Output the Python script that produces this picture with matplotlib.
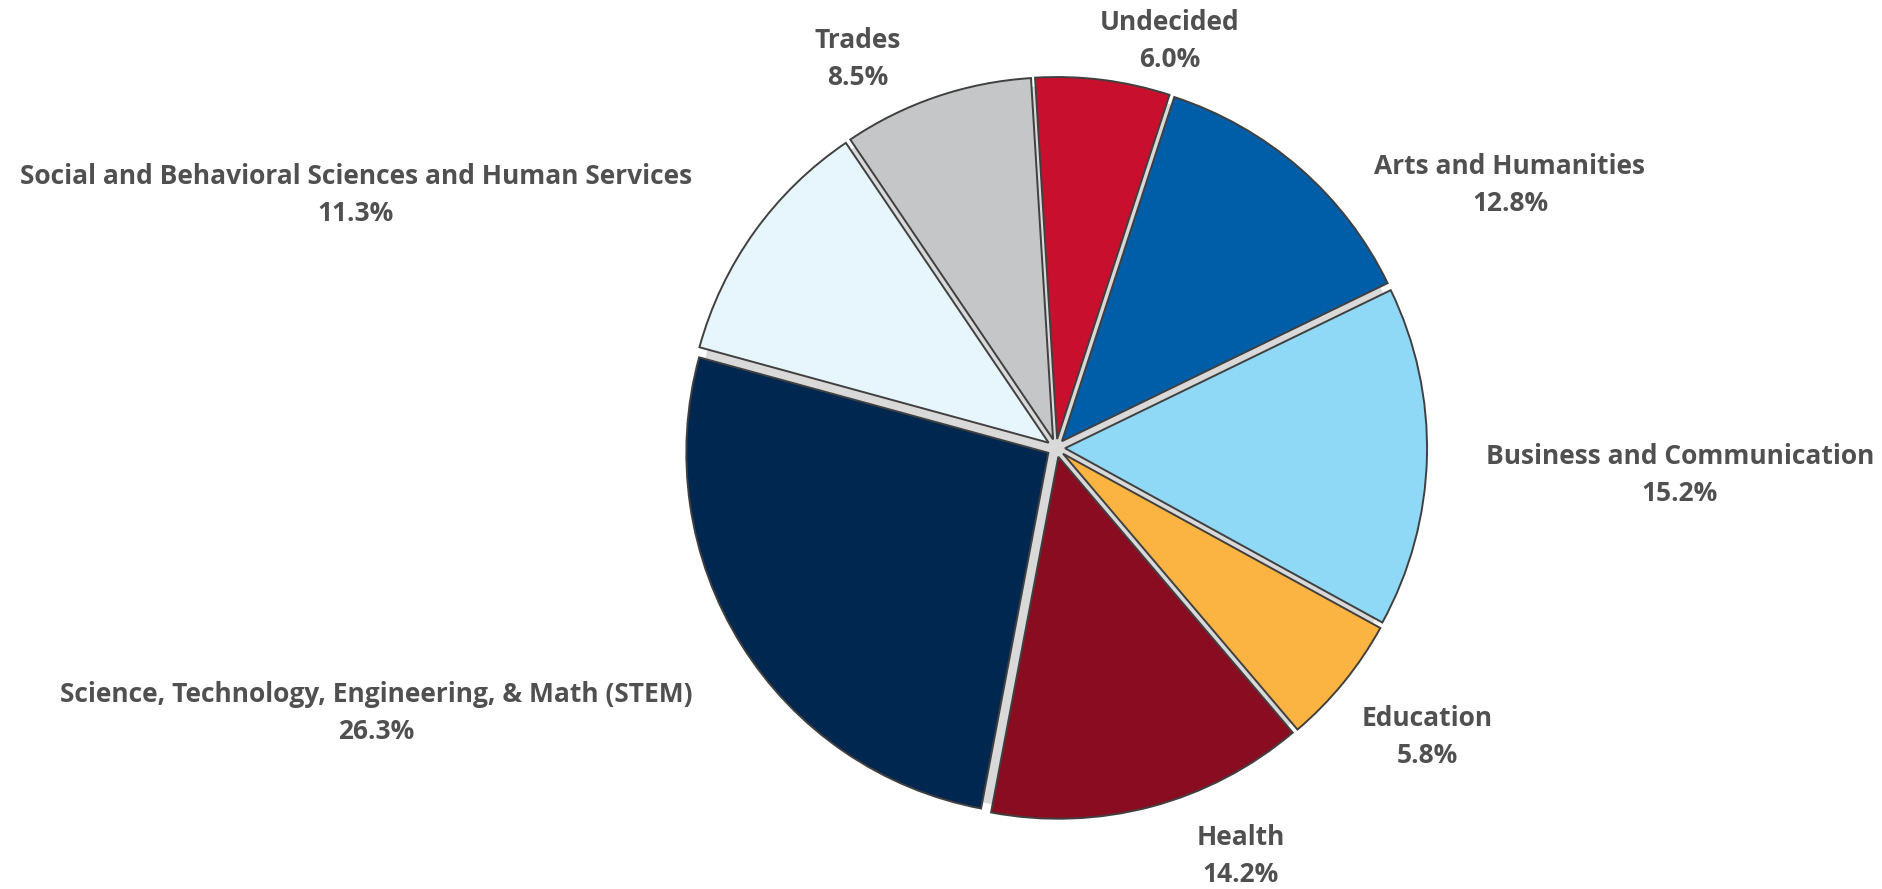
import numpy as np
import matplotlib.pyplot as plt

# slices, clockwise from the top
categories = ['Undecided', 'Arts and Humanities', 'Business and Communication',
              'Education', 'Health', 'Science, Technology, Engineering, & Math (STEM)',
              'Social and Behavioral Sciences and Human Services', 'Trades']
shares = [6.0, 12.8, 15.2, 5.8, 14.2, 26.3, 11.3, 8.5]
colors = ['#C8102E', '#005EA8', '#8FD9F6', '#FBB441', '#8A0C20', '#00274F',
          '#E7F5FD', '#C5C6C8']

# label anchor points in pixels (x, y from top)
label_pos = [(1170, 41), (1510, 185), (1680, 475), (1427, 737),
             (1241, 856), (376, 713), (356, 195), (858, 59)]

W, H = 1882, 889
CX, CY, R = 1056, 448, 362


def plot():
    fig = plt.figure(figsize=(W / 100, H / 100), dpi=100)
    ax = fig.add_axes([0, 0, 1, 1])

    center = (CX, H - CY)
    # light grey backing that shows through the gaps between the wedges
    ax.pie([1], radius=R, center=center, colors=['#D9D9D9'],
           wedgeprops=dict(linewidth=0), frame=True)
    # explode is in data units here
    ax.pie(shares, radius=R, center=center, colors=colors, startangle=93.5,
           counterclock=False, explode=[0.025 * R] * len(shares),
           wedgeprops=dict(edgecolor='#404040', linewidth=1.4), frame=True)
    ax.set_xlim(0, W)
    ax.set_ylim(0, H)
    ax.set_aspect('equal')
    ax.axis('off')

    for name, val, (x, y) in zip(categories, shares, label_pos):
        ax.text(x, H - y, f'{name}\n{val:.1f}%', ha='center', va='center',
                fontsize=19, fontweight='bold', family='Open Sans', color='#505050',
                linespacing=1.45)
    return fig


if __name__ == '__main__':
    fig = plot()
    fig.savefig('out.png', dpi=100)
